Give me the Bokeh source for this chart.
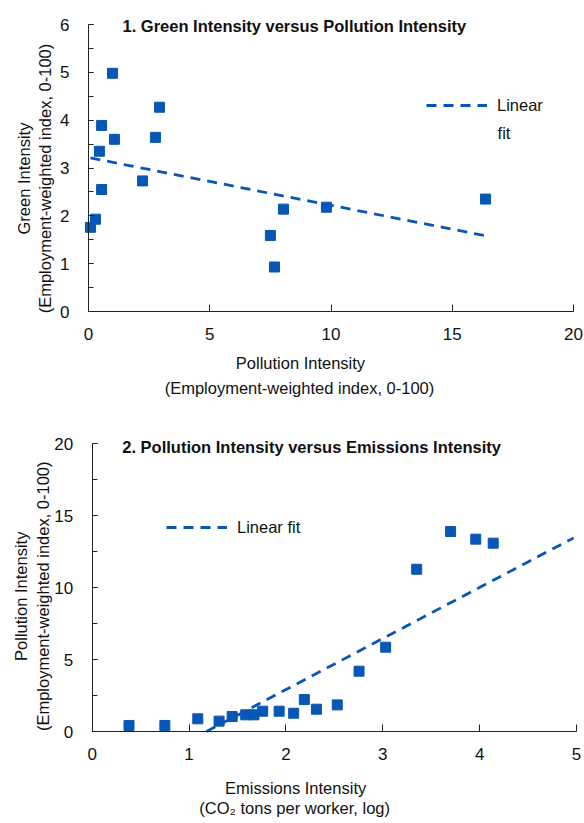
from math import pi
from bokeh.plotting import figure
from bokeh.models import FixedTicker, Label, Legend, LegendItem, ColumnDataSource, Range1d
from bokeh.layouts import column
from bokeh.embed import file_html
from bokeh.resources import INLINE

# ---- Panel 1 data: Green intensity vs Pollution intensity ----
p1_pollution = [0.08, 0.29, 0.54, 0.45, 0.54, 0.99, 1.07, 2.23, 2.76, 2.93, 7.50, 7.67, 8.04, 9.81, 16.37]
p1_green = [1.76, 1.93, 2.55, 3.35, 3.89, 4.98, 3.60, 2.73, 3.64, 4.27, 1.59, 0.93, 2.14, 2.18, 2.35]
p1_fit_x = [0.08, 16.4]
p1_fit_y = [3.21, 1.58]
p1_xticks = [0, 5, 10, 15, 20]
p1_yticks = [0, 1, 2, 3, 4, 5, 6]
p1_yminor = [0, 0.5, 1, 1.5, 2, 2.5, 3, 3.5, 4, 4.5, 5, 5.5, 6]

# ---- Panel 2 data: Pollution intensity vs Emissions intensity ----
p2_emissions = [0.38, 0.75, 1.09, 1.31, 1.445, 1.585, 1.67, 1.76, 1.93, 2.08, 2.19, 2.315, 2.53, 2.755, 3.03, 3.35, 3.70, 3.96, 4.14]
p2_pollution = [0.42, 0.42, 0.88, 0.72, 1.04, 1.16, 1.16, 1.41, 1.41, 1.27, 2.22, 1.55, 1.85, 4.19, 5.86, 11.28, 13.90, 13.37, 13.09]
p2_fit_x = [1.18, 4.97]
p2_fit_y = [0.0, 13.46]
p2_xticks = [0, 1, 2, 3, 4, 5]
p2_yticks = [0, 5, 10, 15, 20]
p2_yminor = [0, 2.5, 5, 7.5, 10, 12.5, 15, 17.5, 20]

BLUE = "#0757B7"
FONT = "Liberation Sans"
TXT = "#111111"
W = 584


def make_fig(height, x0_px, x_per_unit, y0_px, y_per_unit, xb, yb):
    # frame covers the whole canvas; axes are pinned at 0 and bounded
    xr = Range1d(-x0_px / x_per_unit, (W - x0_px) / x_per_unit)
    yr = Range1d(-(height - y0_px) / y_per_unit, y0_px / y_per_unit)
    p = figure(width=W, height=height, x_range=xr, y_range=yr, title=None,
               output_backend="svg", toolbar_location=None,
               min_border=0, min_border_left=0, min_border_right=0,
               min_border_top=0, min_border_bottom=0)
    p.xgrid.visible = False
    p.ygrid.visible = False
    p.outline_line_color = None
    p.background_fill_color = "white"
    p.border_fill_color = "white"
    p.xaxis.fixed_location = 0
    p.yaxis.fixed_location = 0
    p.xaxis.bounds = xb
    p.yaxis.bounds = yb
    for ax in (p.xaxis, p.yaxis):
        ax.axis_line_color = "#222222"
        ax.axis_line_width = 1
        ax.major_tick_line_color = "#222222"
        ax.minor_tick_line_color = "#222222"
        ax.major_tick_out = 0
        ax.minor_tick_out = 0
        ax.major_label_text_font = FONT
        ax.major_label_text_font_size = "17px"
        ax.major_label_text_color = TXT
    p.xaxis.major_tick_in = 7
    p.xaxis.minor_tick_in = 7
    p.yaxis.major_tick_in = 5
    p.yaxis.minor_tick_in = 5
    p.xaxis.major_label_standoff = 16
    p.yaxis.major_label_standoff = 19
    return p


def add_text(p, x, y, text, size="16.5px", bold=False, angle=0.0, align="center"):
    p.add_layout(Label(x=x, y=y, x_units="data", y_units="data", text=text,
                       text_font=FONT, text_font_size=size,
                       text_font_style="bold" if bold else "normal",
                       text_color=TXT, text_align=align, text_baseline="middle",
                       angle=angle, angle_units="rad"))


def add_legend(p, label, loc):
    p.add_layout(Legend(items=[LegendItem(label=label, renderers=[p.renderers[-1]])],
                        location=loc, border_line_color=None, background_fill_alpha=0,
                        padding=0, margin=0, glyph_width=61, glyph_height=20, label_standoff=10,
                        label_text_font=FONT, label_text_font_size="16.5px", label_text_color=TXT))


# ---------------- Figure 1 ----------------
p1 = make_fig(400, 88, 24.25, 311, 47.833, (0, 20), (0, 6))
p1.xaxis.ticker = FixedTicker(ticks=p1_xticks, minor_ticks=[])
p1.yaxis.ticker = FixedTicker(ticks=p1_yticks, minor_ticks=p1_yminor)

src1 = ColumnDataSource(dict(x=p1_pollution, y=p1_green))
p1.scatter("x", "y", source=src1, marker="square", size=10, color=BLUE, line_color=BLUE)
p1.line(p1_fit_x, p1_fit_y, line_color=BLUE, line_width=2.8, line_dash="10 7")
add_legend(p1, "Linear", (426, 285))
add_text(p1, 16.87, 3.742, "fit", align="left")

add_text(p1, 1.40, 5.96, "1. Green Intensity versus Pollution Intensity", size="16.5px", bold=True, align="left")
add_text(p1, 8.74, -1.07, "Pollution Intensity")
add_text(p1, 8.70, -1.59, "(Employment-weighted index, 0-100)")
add_text(p1, -2.68, 2.78, "Green Intensity", angle=pi / 2)
add_text(p1, -1.81, 2.78, "(Employment-weighted index, 0-100)", angle=pi / 2)

# ---------------- Figure 2 ----------------
p2 = make_fig(423, 91.7, 96.86, 331, 14.385, (0, 5), (0, 20))
p2.xaxis.ticker = FixedTicker(ticks=p2_xticks, minor_ticks=[])
p2.yaxis.ticker = FixedTicker(ticks=p2_yticks, minor_ticks=p2_yminor)

src2 = ColumnDataSource(dict(x=p2_emissions, y=p2_pollution))
p2.scatter("x", "y", source=src2, marker="square", size=10, color=BLUE, line_color=BLUE)
p2.line(p2_fit_x, p2_fit_y, line_color=BLUE, line_width=2.8, line_dash="10 7")
add_legend(p2, "Linear fit", (166, 286))

add_text(p2, 0.31, 19.76, "2. Pollution Intensity versus Emissions Intensity", size="16.5px", bold=True, align="left")
add_text(p2, 2.10, -3.96, "Emissions Intensity")
add_text(p2, 2.09, -5.35, "(CO\u2082 tons per worker, log)")
add_text(p2, -0.73, 9.4, "Pollution Intensity", angle=pi / 2)
add_text(p2, -0.51, 9.4, "(Employment-weighted index, 0-100)", angle=pi / 2)

layout = column(p1, p2, spacing=0)
open("out.html", "w").write(file_html(layout, INLINE))
